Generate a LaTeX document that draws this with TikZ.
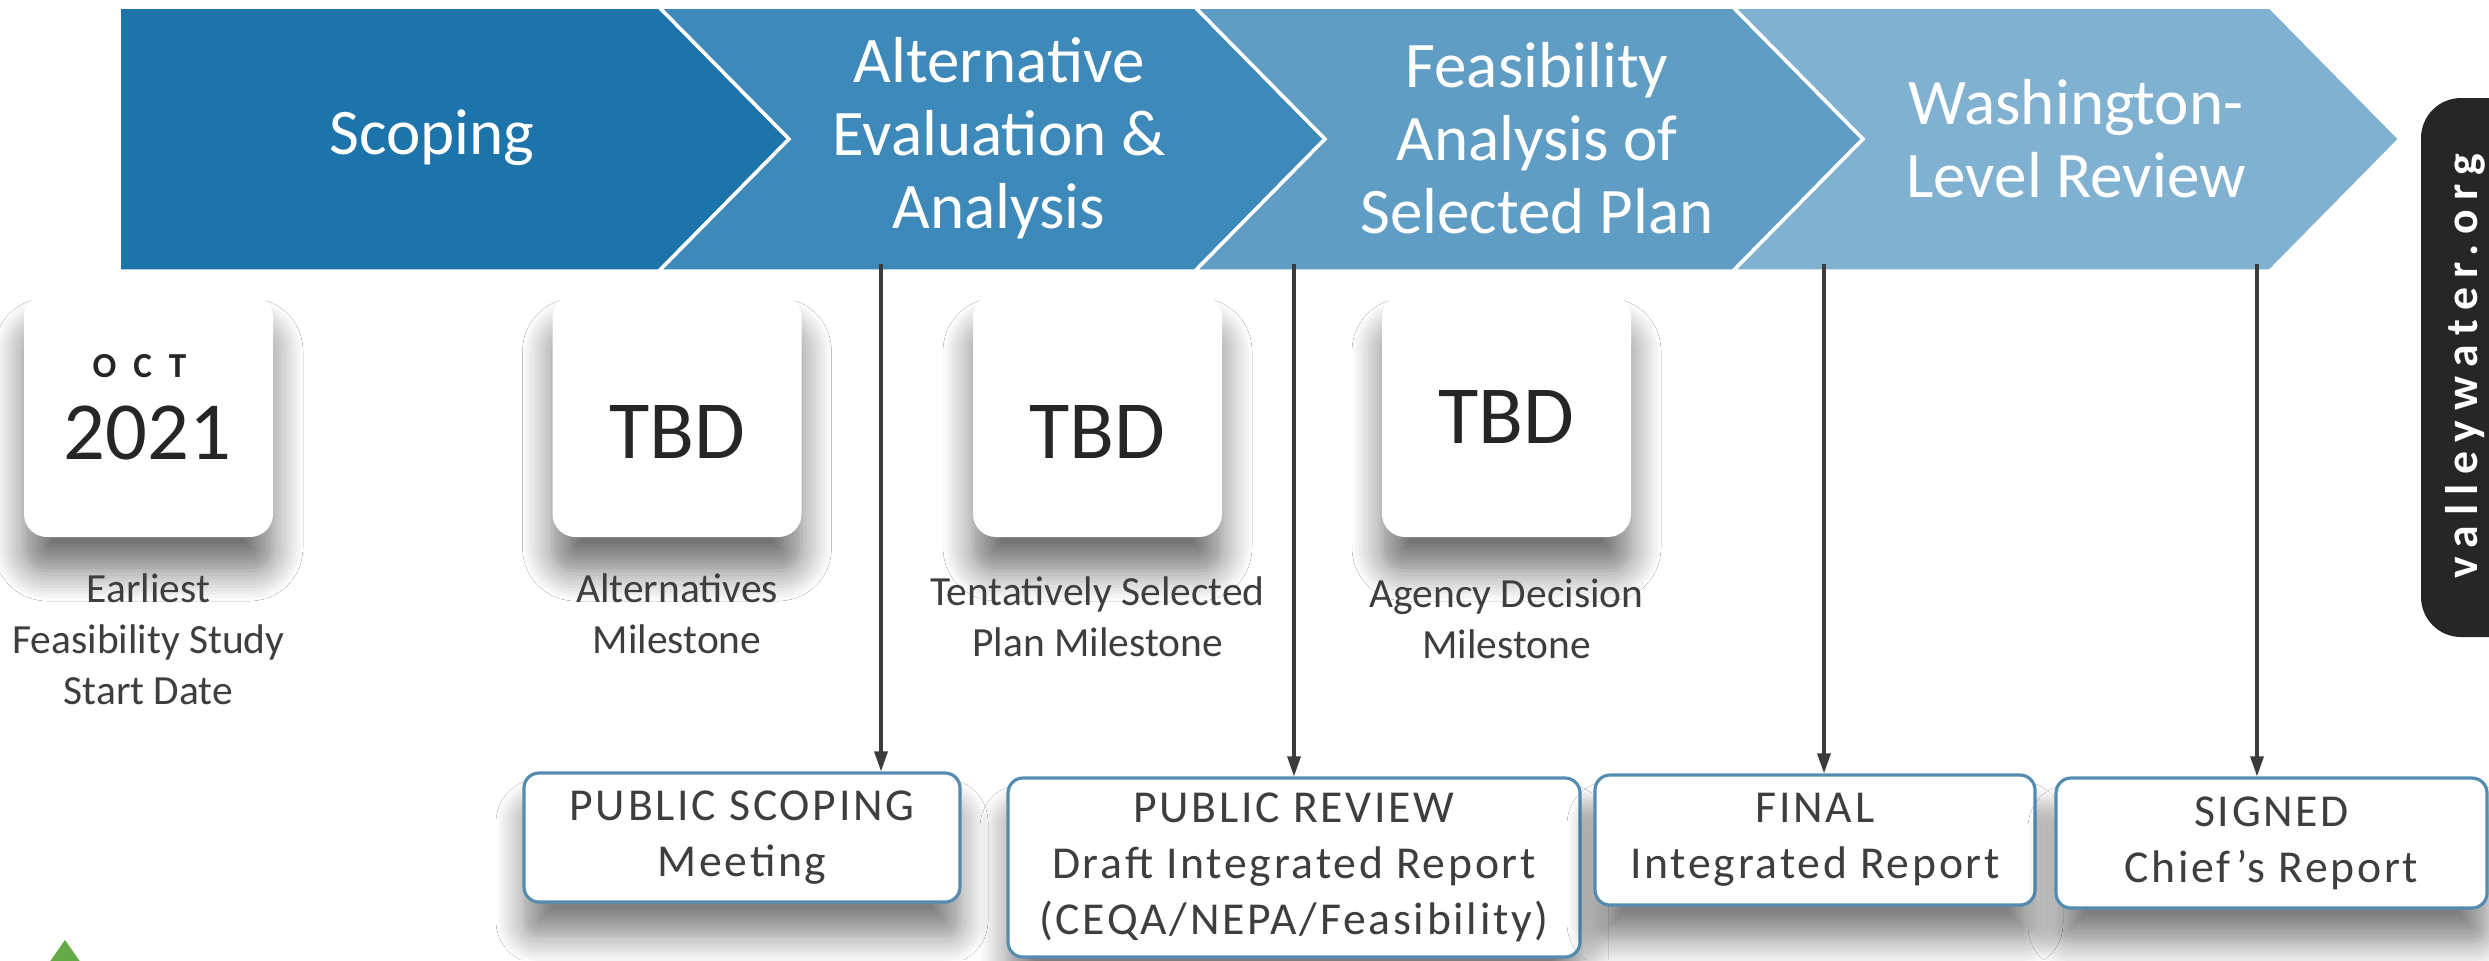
\documentclass[tikz,border=0pt]{standalone}
\usepackage{fontspec}
\setmainfont{Carlito}
\usepackage{tikz}
\usetikzlibrary{arrows.meta, positioning, shadows.blur}
\definecolor{mychevA}{RGB}{29,116,171}
\definecolor{mychevB}{RGB}{61,137,186}
\definecolor{mychevC}{RGB}{95,157,197}
\definecolor{mychevD}{RGB}{128,177,209}
\definecolor{mydark}{RGB}{38,38,38}
\definecolor{mytext}{RGB}{62,62,62}
\definecolor{myarrow}{RGB}{59,59,59}
\definecolor{myframe}{RGB}{84,140,176}
\definecolor{mygreen}{RGB}{100,170,70}
\tikzset{
  phase/.style={fill=#1, draw=white, line width=1pt},
  phasetext/.style={text=white, align=center,
    font=\fontsize{18.5}{20.7}\selectfont},
  datebox/.style={rectangle, fill=white, rounded corners=0.23cm,
    minimum width=2.49cm, minimum height=2.43cm,
    blur shadow={shadow xshift=0cm, shadow yshift=-0.34cm,
      shadow blur radius=0.3cm, shadow blur steps=10, shadow opacity=55}},
  bigtext/.style={text=mydark, inner sep=0pt,
    font=\fontsize{23.5}{28}\selectfont},
  milestone/.style={text=mytext, align=center, inner sep=0pt,
    font=\fontsize{11.8}{14.5}\selectfont},
  notebox/.style={rectangle, draw=myframe, line width=0.9pt, fill=white,
    rounded corners=0.15cm, align=center, text=mytext,
    font=\fontsize{13}{16}\selectfont\addfontfeature{LetterSpace=6},
    blur shadow={shadow xshift=0cm, shadow yshift=-0.34cm,
      shadow blur radius=0.28cm, shadow blur steps=10, shadow opacity=50}},
  arrow/.style={-{Triangle[length=0.2cm, width=0.13cm]}, line width=0.9pt, color=myarrow}
}

\begin{document}
\begin{tikzpicture}
  \path[use as bounding box, fill=white] (0,0) rectangle (24.89,-9.60);

  % Phase chevrons
  \draw[phase=mychevA] (1.19,-0.07) -- (6.59,-0.07) -- (7.89,-1.39) -- (6.59,-2.71) -- (1.19,-2.71) -- cycle;
  \foreach \l/\r/\c in {6.59/11.95/mychevB, 11.95/17.33/mychevC, 17.33/22.70/mychevD} {
    \draw[phase=\c] (\l,-0.07) -- (\r,-0.07) -- (\r+1.30,-1.39) -- (\r,-2.71) -- (\l,-2.71) -- (\l+1.30,-1.39) -- cycle;
  }
  \node[phasetext] (ph1) at (4.32,-1.38) {Scoping};
  \node[phasetext] (ph2) at (9.99,-1.38) {Alternative\\Evaluation \&\\Analysis};
  \node[phasetext] (ph3) at (15.37,-1.38) {Feasibility\\Analysis of\\Selected Plan};
  \node[phasetext] (ph4) at (20.76,-1.39) {Washington-\\Level Review};

  % Milestone dates
  \node[datebox] (d1) at (1.485,-4.155) {};
  \node[datebox] (d2) at (6.77,-4.155) {};
  \node[datebox] (d3) at (10.975,-4.155) {};
  \node[datebox] (d4) at (15.065,-4.155) {};
  \node[text=mydark, inner sep=0pt, font=\bfseries\fontsize{10}{12}\selectfont] (mon) at (1.395,-3.66) {O\hspace{0.17cm}C\hspace{0.17cm}T};
  \node[bigtext] (yr) at (1.475,-4.325) {2021};
  \node[bigtext] (t2) at (6.77,-4.32) {TBD};
  \node[bigtext] (t3) at (10.975,-4.32) {TBD};
  \node[bigtext] (t4) at (15.065,-4.17) {TBD};

  \node[milestone, below=0.35cm of d1] (l1) {Earliest\\Feasibility Study\\Start Date};
  \node[milestone, below=0.35cm of d2] (l2) {Alternatives\\Milestone};
  \node[milestone, below=0.38cm of d3] (l3) {Tentatively Selected\\Plan Milestone};
  \node[milestone, below=0.41cm of d4] (l4) {Agency Decision\\Milestone};

  % Review products
  \node[notebox, minimum width=4.36cm, minimum height=1.29cm] (bA) at (7.42,-8.375) {PUBLIC SCOPING\\Meeting};
  \node[notebox, minimum width=5.72cm, minimum height=1.79cm] (bB) at (12.94,-8.675) {PUBLIC REVIEW\\Draft Integrated Report\\(CEQA/NEPA/Feasibility)};
  \node[notebox, minimum width=4.40cm, minimum height=1.30cm] (bC) at (18.15,-8.40) {FINAL\\Integrated Report};
  \node[notebox, minimum width=4.31cm, minimum height=1.30cm] (bD) at (22.715,-8.43) {SIGNED\\Chief’s Report};

  % Arrows from the phase bar
  \coordinate (a1) at (8.81,-2.64);
  \coordinate (a2) at (12.94,-2.64);
  \coordinate (a3) at (18.24,-2.64);
  \coordinate (a4) at (22.57,-2.64);
  \draw[arrow] (a1) -- (a1 |- bA.north);
  \draw[arrow] (a2) -- (a2 |- bB.north);
  \draw[arrow] (a3) -- (a3 |- bC.north);
  \draw[arrow] (a4) -- (a4 |- bD.north);

  % Web address tab
  \fill[mydark, rounded corners=0.4cm] (24.21,-0.98) rectangle (25.30,-6.37);
  \node[rotate=90, text=white, font=\bfseries\fontsize{13}{15}\selectfont\addfontfeature{LetterSpace=21}] (url) at (24.655,-3.66) {valleywater.org};

  % Corner marker
  \fill[mygreen] (0.65,-9.40) -- (0.93,-9.80) -- (0.37,-9.80) -- cycle;
\end{tikzpicture}
\end{document}
